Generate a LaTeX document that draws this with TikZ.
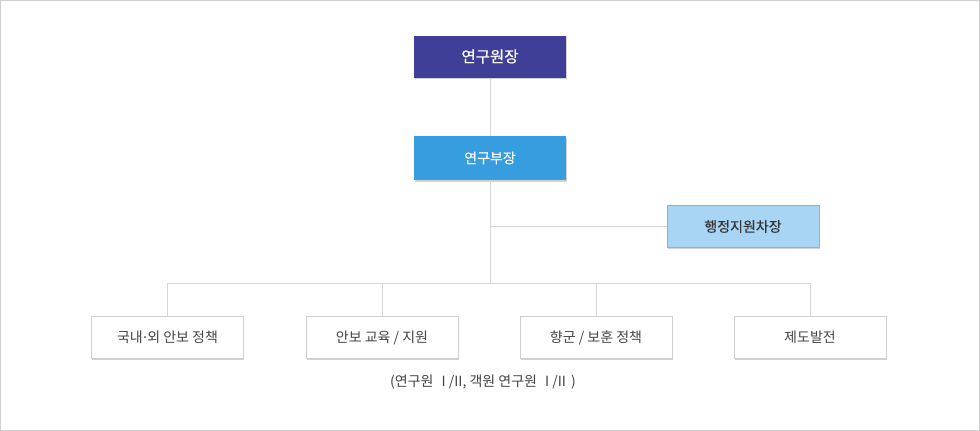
\documentclass[tikz,border=0pt]{standalone}
\usepackage{fontspec}
\setmainfont{Noto Sans CJK KR}
\newfontfamily\boldish[FakeBold=0.5]{Noto Sans CJK KR}
\newfontfamily\mediumish[FakeBold=0.25]{Noto Sans CJK KR}
\newfontfamily\dotfont{DejaVu Sans}
\usetikzlibrary{shadows}
\definecolor{darkbox}{HTML}{403F98}
\definecolor{midbox}{HTML}{369DDE}
\definecolor{lightbox}{HTML}{A8D5F3}
\definecolor{lightedge}{HTML}{7FB6DE}
\definecolor{linegray}{HTML}{D6D6D6}
\definecolor{boxedge}{HTML}{CFCFCF}
\definecolor{txt}{HTML}{444444}
\definecolor{txtdark}{HTML}{333333}
\begin{document}
\begin{tikzpicture}[x=1pt,y=-1pt,
  base/.style={minimum width=152pt, minimum height=42pt, inner sep=0pt, font=\fontsize{14}{16}\selectfont,
    drop shadow={opacity=0.18, shadow xshift=0.6pt, shadow yshift=-1.6pt, fill=black}},
  topbox/.style={base, fill=darkbox, text=white, font=\boldish\fontsize{15.5}{17}\selectfont},
  subbox/.style={base, fill=midbox, text=white, minimum height=44pt, font=\mediumish\fontsize{14}{16}\selectfont},
  adminbox/.style={base, fill=lightbox, draw=lightedge, line width=0.7pt, text=txtdark, font=\mediumish\fontsize{14}{16}\selectfont},
  unitbox/.style={base, fill=white, draw=boxedge, line width=0.8pt, text=txt},
  conn/.style={draw=linegray, line width=0.9pt}]
\draw[draw=boxedge, line width=0.8pt, fill=white] (0.5,0.5) rectangle (979.5,430.5);
\useasboundingbox (0,0) rectangle (980,431);
\node[topbox] (dir) at (490,56.5) {연구원장};
\node[subbox] (vice) at (490,158) {연구부장};
\node[adminbox] (admin) at (743,226.5) {행정지원차장};
\node[unitbox] (u1) at (167.5,337.5) {국내{\dotfont·}외 안보 정책};
\node[unitbox] (u2) at (382,337.5) {안보 교육 / 지원};
\node[unitbox] (u3) at (596,337.5) {향군 / 보훈 정책};
\node[unitbox] (u4) at (810,337.5) {제도발전};
\coordinate (bus) at (490,283);
\coordinate (mid) at (490,226.5);
\path[conn] (dir.south) -- (vice.north);
\path[conn] (vice.south) -- (bus);
\path[conn] (mid) -- (admin.west);
\path[conn] (bus) -| (u1.north);
\path[conn] (bus) -| (u2.north);
\path[conn] (bus) -| (u3.north);
\path[conn] (bus) -| (u4.north);
\node[font=\fontsize{14}{16}\selectfont, text=txt] (note) at (483,382) {(연구원\hspace{8pt}I /II, 객원 연구원\hspace{8pt}I /II\hspace{5pt})};
\end{tikzpicture}
\end{document}
